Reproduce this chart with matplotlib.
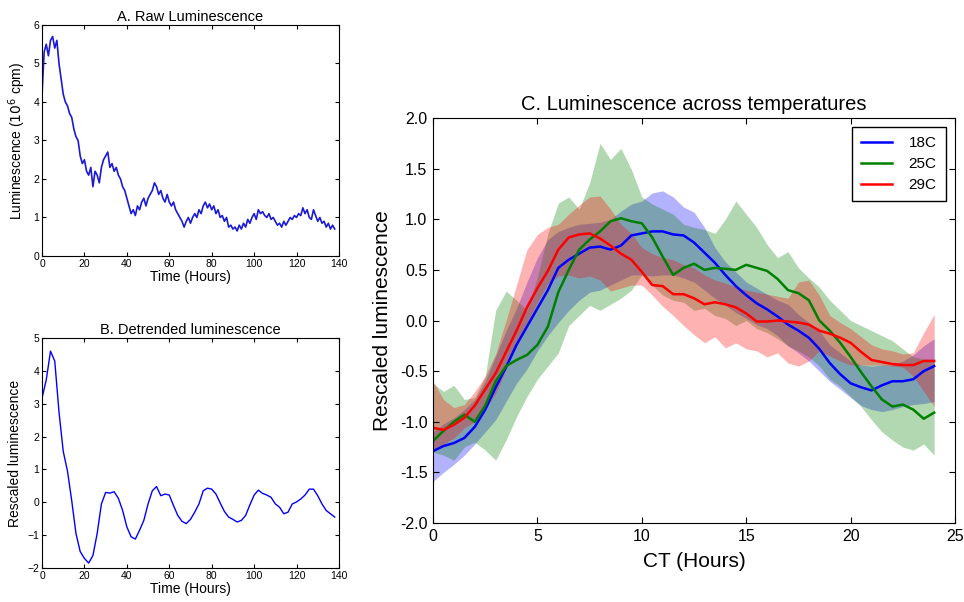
import numpy as np
import matplotlib
matplotlib.use("Agg")
import matplotlib.pyplot as plt

plt.rcParams['font.family'] = ['Liberation Sans', 'DejaVu Sans']
plt.rcParams['xtick.direction'] = 'in'
plt.rcParams['ytick.direction'] = 'in'
plt.rcParams['xtick.top'] = True
plt.rcParams['ytick.right'] = True

# --- A. raw luminescence, one value per hour (10^6 cpm)
raw_hours = np.arange(0, 139)
raw_lum = [4.2, 5.3, 5.5, 5.2, 5.6, 5.7, 5.4, 5.6, 5.0, 4.6,
           4.2, 4.0, 3.9, 3.7, 3.6, 3.3, 3.1, 3.0, 2.6, 2.4,
           2.5, 2.2, 2.1, 2.3, 1.8, 2.2, 2.1, 1.9, 2.3, 2.5,
           2.6, 2.7, 2.3, 2.4, 2.2, 2.3, 2.1, 2.0, 1.8, 1.7,
           1.5, 1.3, 1.1, 1.2, 1.05, 1.3, 1.2, 1.4, 1.5, 1.3,
           1.5, 1.6, 1.7, 1.9, 1.8, 1.6, 1.7, 1.5, 1.4, 1.6,
           1.4, 1.3, 1.4, 1.2, 1.1, 1.0, 0.9, 0.75, 0.9, 1.0,
           0.85, 1.0, 1.1, 1.0, 1.2, 1.1, 1.3, 1.4, 1.25, 1.35,
           1.2, 1.3, 1.1, 1.2, 1.0, 1.05, 0.9, 1.0, 0.75, 0.8,
           0.7, 0.75, 0.65, 0.8, 0.7, 0.85, 0.75, 0.95, 0.85, 1.0,
           1.1, 0.95, 1.2, 1.1, 1.15, 1.05, 1.0, 1.1, 0.95, 1.0,
           0.9, 0.8, 0.85, 0.75, 0.9, 0.8, 0.9, 1.0, 0.95, 1.05,
           1.0, 1.1, 1.05, 1.25, 1.1, 1.2, 1.0, 0.95, 1.2, 1.05,
           0.9, 1.0, 0.85, 0.9, 0.75, 0.85, 0.7, 0.8, 0.7]

# --- B. detrended luminescence, every 2 hours
det_hours = np.arange(0, 139, 2)
det_lum = [3.17, 3.73, 4.6, 4.3, 2.75, 1.55, 0.95, 0.05, -0.95, -1.5,
           -1.71, -1.85, -1.62, -0.95, -0.05, 0.30, 0.28, 0.32, 0.12, -0.25,
           -0.75, -1.05, -1.12, -0.85, -0.55, -0.05, 0.35, 0.48, 0.20, 0.25,
           0.22, -0.10, -0.40, -0.58, -0.65, -0.52, -0.30, -0.05, 0.35, 0.43,
           0.40, 0.25, -0.02, -0.28, -0.45, -0.52, -0.60, -0.55, -0.40, -0.08,
           0.22, 0.37, 0.27, 0.22, 0.15, -0.05, -0.15, -0.35, -0.30, -0.05,
           0.01, 0.10, 0.22, 0.40, 0.40, 0.20, -0.05, -0.25, -0.35, -0.45]

# --- C. mean and band per temperature, every 0.5 h of CT
ct = np.arange(0, 24.5, 0.5)
labels = ['18C', '25C', '29C']
colors = ['b', 'g', 'r']

mean_18 = [-1.29, -1.24, -1.21, -1.16, -1.05, -0.88, -0.66, -0.46, -0.24, -0.06,
           0.12, 0.30, 0.52, 0.60, 0.66, 0.72, 0.73, 0.70, 0.74, 0.84,
           0.86, 0.88, 0.88, 0.85, 0.84, 0.77, 0.67, 0.57, 0.45, 0.34,
           0.25, 0.17, 0.11, 0.04, -0.04, -0.10, -0.17, -0.28, -0.42, -0.53,
           -0.62, -0.66, -0.69, -0.64, -0.60, -0.60, -0.58, -0.50, -0.45]
low_18 = [-1.59, -1.50, -1.42, -1.33, -1.22, -1.10, -0.98, -0.80, -0.62, -0.48,
          -0.30, -0.15, -0.02, 0.10, 0.20, 0.28, 0.30, 0.35, 0.40, 0.45,
          0.45, 0.44, 0.45, 0.45, 0.42, 0.38, 0.30, 0.22, 0.15, 0.08,
          0.02, -0.04, -0.08, -0.15, -0.25, -0.32, -0.40, -0.50, -0.60, -0.68,
          -0.76, -0.84, -0.88, -0.90, -0.88, -0.85, -0.83, -0.82, -0.80]
high_18 = [-1.10, -1.02, -0.96, -0.88, -0.78, -0.60, -0.35, -0.10, 0.12, 0.38,
           0.62, 0.80, 0.88, 0.92, 0.95, 0.96, 0.97, 1.00, 1.08, 1.15,
           1.18, 1.26, 1.28, 1.22, 1.12, 1.07, 0.92, 0.72, 0.58, 0.48,
           0.38, 0.32, 0.26, 0.20, 0.16, 0.06, -0.02, -0.10, -0.24, -0.32,
           -0.40, -0.44, -0.45, -0.44, -0.44, -0.40, -0.34, -0.25, -0.18]

mean_25 = [-1.19, -1.09, -1.00, -0.93, -1.00, -0.84, -0.60, -0.45, -0.39, -0.34,
           -0.24, -0.06, 0.28, 0.50, 0.70, 0.80, 0.88, 0.98, 1.01, 0.98,
           0.96, 0.82, 0.63, 0.45, 0.52, 0.56, 0.50, 0.52, 0.51, 0.50,
           0.55, 0.52, 0.49, 0.41, 0.30, 0.27, 0.20, 0.00, -0.10, -0.22,
           -0.36, -0.51, -0.65, -0.78, -0.85, -0.83, -0.88, -0.97, -0.91]
low_25 = [-1.30, -1.33, -1.38, -1.25, -1.20, -1.28, -1.38, -1.18, -0.95, -0.75,
          -0.58, -0.45, -0.32, -0.05, 0.05, 0.15, 0.10, 0.16, 0.22, 0.30,
          0.45, 0.35, 0.25, 0.20, 0.18, 0.10, 0.12, 0.05, 0.02, -0.05,
          0.00, -0.08, -0.12, -0.18, -0.25, -0.30, -0.36, -0.45, -0.58, -0.65,
          -0.75, -0.85, -0.98, -1.10, -1.18, -1.25, -1.28, -1.22, -1.33]
high_25 = [-0.62, -0.70, -0.64, -0.78, -0.76, -0.55, 0.10, 0.29, 0.20, 0.10,
           0.43, 0.86, 1.16, 1.22, 1.10, 1.36, 1.75, 1.59, 1.70, 1.49,
           1.22, 1.15, 1.10, 1.05, 0.95, 0.92, 0.90, 0.86, 1.00, 1.18,
           1.05, 0.92, 0.75, 0.62, 0.68, 0.52, 0.42, 0.33, 0.20, 0.10,
           0.00, -0.05, -0.10, -0.15, -0.20, -0.28, -0.36, -0.38, -0.38]

mean_29 = [-1.06, -1.08, -1.03, -0.96, -0.84, -0.68, -0.52, -0.31, -0.10, 0.13,
           0.32, 0.49, 0.70, 0.82, 0.85, 0.86, 0.81, 0.74, 0.66, 0.60,
           0.48, 0.35, 0.34, 0.26, 0.26, 0.22, 0.16, 0.18, 0.16, 0.13,
           0.07, -0.01, -0.01, 0.00, -0.01, -0.02, -0.04, -0.10, -0.13, -0.17,
           -0.22, -0.31, -0.39, -0.41, -0.43, -0.44, -0.44, -0.40, -0.40]
low_29 = [-1.30, -1.22, -1.16, -1.06, -1.00, -0.88, -0.72, -0.48, -0.20, -0.02,
          0.18, 0.36, 0.44, 0.45, 0.42, 0.44, 0.40, 0.29, 0.32, 0.35,
          0.35, 0.25, 0.14, 0.05, -0.05, -0.14, -0.22, -0.16, -0.27, -0.22,
          -0.28, -0.30, -0.36, -0.32, -0.42, -0.45, -0.40, -0.30, -0.35, -0.40,
          -0.44, -0.44, -0.44, -0.44, -0.45, -0.46, -0.55, -0.70, -0.85]
high_29 = [-0.60, -0.78, -0.86, -0.83, -0.70, -0.55, -0.33, 0.00, 0.35, 0.70,
           0.85, 0.92, 0.95, 1.05, 1.14, 1.22, 1.23, 1.10, 0.95, 0.86,
           0.72, 0.66, 0.62, 0.60, 0.55, 0.52, 0.45, 0.40, 0.37, 0.33,
           0.30, 0.28, 0.26, 0.24, 0.22, 0.38, 0.40, 0.25, 0.05, -0.02,
           -0.08, -0.16, -0.24, -0.28, -0.30, -0.33, -0.32, -0.12, 0.06]

means = [mean_18, mean_25, mean_29]
lows = [low_18, low_25, low_29]
highs = [high_18, high_25, high_29]

fig = plt.figure(figsize=(9.64, 6.02), dpi=100)

# panel A
axA = fig.add_axes([0.0436, 0.5748, 0.308, 0.3837])
axA.plot(raw_hours, raw_lum, color='#1a1ad8', lw=1.2)
axA.set_xlim(0, 140)
axA.set_ylim(0, 6)
axA.set_xticks(range(0, 141, 20))
axA.set_title('A. Raw Luminescence', fontsize=10.5, pad=3)
axA.set_xlabel('Time (Hours)', fontsize=10, labelpad=1)
axA.set_ylabel(r'Luminescence ($10^6$ cpm)', fontsize=10, labelpad=4)
axA.tick_params(labelsize=7.5, length=3, pad=2)

# panel B
axB = fig.add_axes([0.0436, 0.0565, 0.308, 0.382])
axB.plot(det_hours, det_lum, color='b', lw=1.0)
axB.set_xlim(0, 140)
axB.set_ylim(-2, 5)
axB.set_xticks(range(0, 141, 20))
axB.set_title('B. Detrended luminescence', fontsize=10.5, pad=3)
axB.set_xlabel('Time (Hours)', fontsize=10, labelpad=1)
axB.set_ylabel('Rescaled luminescence', fontsize=10, labelpad=4)
axB.tick_params(labelsize=7.5, length=3, pad=2)

# panel C
axC = fig.add_axes([0.4492, 0.1312, 0.5415, 0.6728])
for lo, hi, c in zip(lows, highs, colors):
    axC.fill_between(ct, lo, hi, color=c, alpha=0.3, lw=0)
for m, c, lab in zip(means, colors, labels):
    axC.plot(ct, m, color=c, lw=1.8, label=lab)
axC.set_xlim(0, 25)
axC.set_ylim(-2, 2)
axC.set_xticks(range(0, 26, 5))
axC.set_yticks(np.arange(-2.0, 2.01, 0.5))
axC.set_yticklabels(['%.1f' % v for v in np.arange(-2.0, 2.01, 0.5)])
axC.set_title('C. Luminescence across temperatures', fontsize=14.5, pad=6)
axC.set_xlabel('CT (Hours)', fontsize=15, labelpad=6)
axC.set_ylabel('Rescaled luminescence', fontsize=15, labelpad=6)
axC.tick_params(labelsize=11.5, length=4, pad=4)
leg = axC.legend(loc='upper right', fontsize=11, fancybox=False,
                 framealpha=1, edgecolor='black', handlelength=2.0,
                 handletextpad=1.1, borderpad=0.6, labelspacing=0.45,
                 borderaxespad=0.6)

fig.savefig('out.png', dpi=100)
